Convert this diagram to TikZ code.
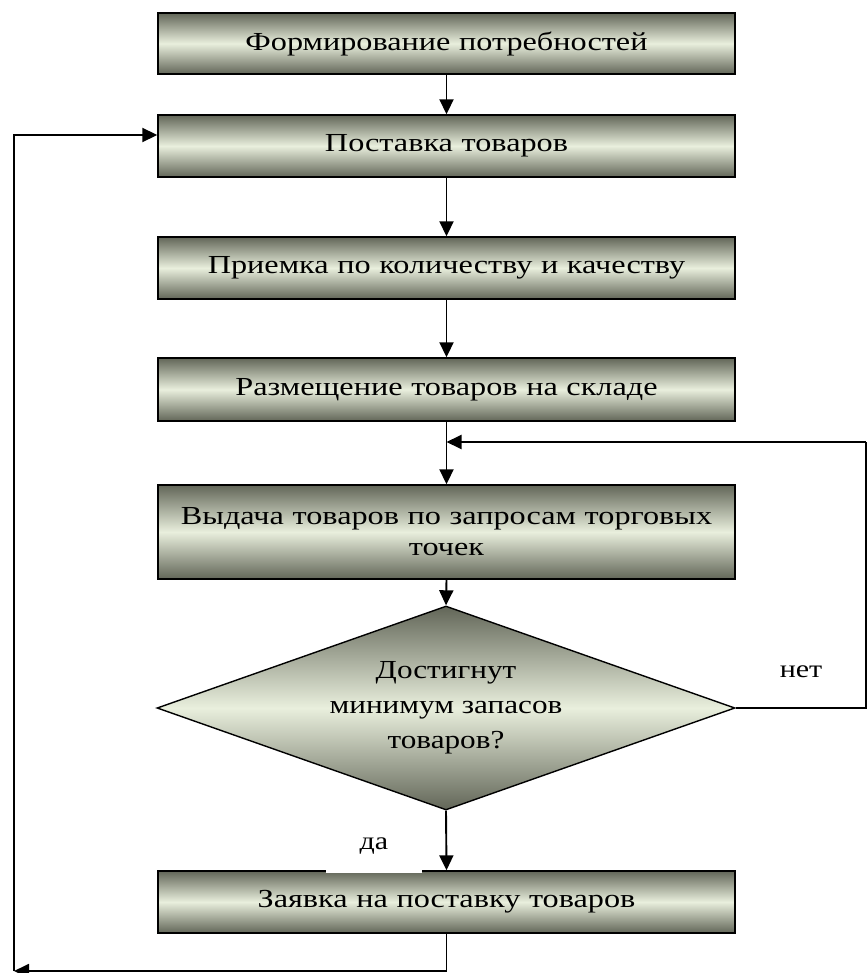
\documentclass[tikz,border=0pt]{standalone}
\usepackage{fontspec}
\setmainfont{Liberation Serif}
\newfontfamily\boxfont[FakeStretch=1.24]{Liberation Serif}
\newfontfamily\diafont[FakeStretch=1.2]{Liberation Serif}
\usetikzlibrary{shapes.geometric,arrows.meta}
\definecolor{shdark}{RGB}{98,102,88}
\definecolor{shlight}{RGB}{233,239,221}
\begin{document}
\begin{tikzpicture}[x=1pt,y=-1pt,
  proc/.style={draw=black, line width=1.4pt, top color=shdark, bottom color=shdark, middle color=shlight,
    minimum width=577pt, inner sep=0pt, align=center, text width=570pt,
    font=\boxfont\fontsize{26}{31}\selectfont},
  decis/.style={diamond, draw=black, line width=1.4pt, top color=shdark, bottom color=shdark, middle color=shlight,
    minimum width=578pt, minimum height=204pt, aspect=2.83, inner sep=0pt, align=center,
    font=\diafont\fontsize{26}{35}\selectfont},
  conn/.style={line width=1.9pt},
  arr/.style={conn, -{Triangle[length=15pt,width=14pt]}},
  lbl/.style={font=\diafont\fontsize{25}{28}\selectfont, inner sep=0pt}
]
\useasboundingbox (0,0) rectangle (867,973);

\node[proc, minimum height=61pt] (b1) at (446.5,43.5) {Формирование потребностей};
\node[proc, minimum height=62pt] (b2) at (446.5,146) {Поставка товаров};
\node[proc, minimum height=62pt] (b3) at (446.5,268) {Приемка по количеству и качеству};
\node[proc, minimum height=63pt] (b4) at (446.5,389.5) {Размещение товаров на складе};
\node[proc, minimum height=94pt] (b5) at (446.5,532) {Выдача товаров по запросам торговых\\точек};
\node[decis] (d) at (446,708) {Достигнут\\минимум запасов\\товаров?};
\node[proc, minimum height=62pt] (b6) at (446.5,902) {Заявка на поставку товаров};

\node[lbl, fill=white, minimum width=96pt, minimum height=53pt] (yes) at (374,846) {да};
\node[lbl] (no) at (801,672) {нет};

\coordinate (cl) at (14,971);
\coordinate (cl2) at (14,135);
\coordinate (cr1) at (866,708);
\coordinate (cr2) at (866,442);

\draw[arr] (b1.south) -- (b2.north);
\draw[arr] (b2.south) -- (b3.north);
\draw[arr] (b3.south) -- (b4.north);
\draw[arr] (b4.south) -- (b5.north);
\draw[arr] (b5.south) -- (d.north);
\draw[arr] (d.south) -- (b6.north);
\draw[conn] (d.east) -- (cr1) -- (cr2);
\draw[arr] (cr2) -- (cr2 -| b4.south);
\draw[arr] (b6.south) |- (cl);
\draw[arr] (cl) -- (cl2) -- (cl2 -| b2.west);
\end{tikzpicture}
\end{document}
